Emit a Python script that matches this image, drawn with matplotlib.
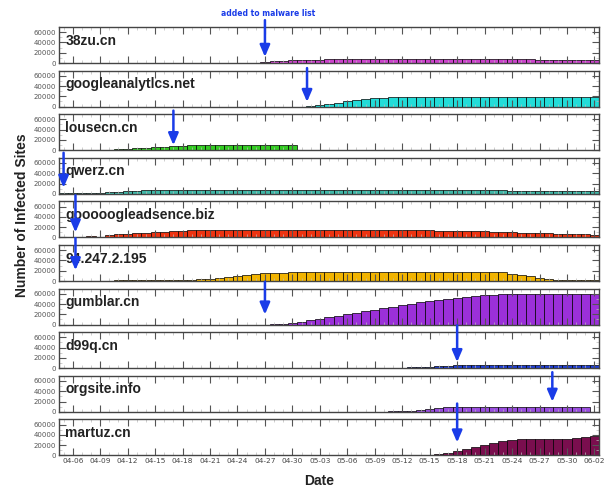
import matplotlib.pyplot as plt
import numpy as np

days = ['04-05', '04-06', '04-07', '04-08', '04-09', '04-10', '04-11', '04-12', '04-13', '04-14',
        '04-15', '04-16', '04-17', '04-18', '04-19', '04-20', '04-21', '04-22', '04-23', '04-24',
        '04-25', '04-26', '04-27', '04-28', '04-29', '04-30', '05-01', '05-02', '05-03', '05-04',
        '05-05', '05-06', '05-07', '05-08', '05-09', '05-10', '05-11', '05-12', '05-13', '05-14',
        '05-15', '05-16', '05-17', '05-18', '05-19', '05-20', '05-21', '05-22', '05-23', '05-24',
        '05-25', '05-26', '05-27', '05-28', '05-29', '05-30', '05-31', '06-01', '06-02']
tick_labels = days[1::3]

sites = ['38zu.cn', 'googleanalytlcs.net', 'lousecn.cn', 'qwerz.cn', 'gooooogleadsence.biz',
         '94.247.2.195', 'gumblar.cn', 'd99q.cn', 'orgsite.info', 'martuz.cn']

# infected sites per day, in thousands
s38zu = [0] * 20 + [0.5, 0.8, 1.5, 3, 4, 5, 5.5, 6, 6.5, 7, 7, 7, 7.5, 7.5, 7.5, 7.5, 7.5, 7.5, 7.5, 7.5,
                    7.5, 7.5, 7.5, 7.5, 7.5, 7.5, 7, 7, 7, 7, 7, 7, 6.5, 6, 6, 6, 5.5, 5.5, 5]
sgoogle = [0] * 27 + [1, 3, 5, 7, 10, 12, 14, 16, 17, 18, 18, 18, 18.5, 18.5, 18.5, 19, 19, 19, 19, 19,
                      19, 19, 19, 19, 19, 19, 19, 19, 19, 19, 19, 19]
slouse = [1, 1, 1, 1, 0.5, 0.5, 2, 3, 4, 5, 6, 7, 8, 9, 10, 10, 11, 11, 11, 11, 11, 11, 11, 11, 11, 11] + [0] * 33
sqwerz = [2, 2, 2, 1, 1, 3, 4, 5, 6, 7, 7, 7.5, 7.5, 8, 8, 8, 8, 8, 8, 8, 8, 8, 8, 8, 8, 8, 8, 8, 8, 8,
          8, 8, 8, 8, 8, 8, 8, 8, 8, 8, 8, 8, 8, 8, 8, 8, 8, 8, 7.5, 6, 5, 5, 5, 4.5, 4.5, 4.5, 4.5, 4.5, 4.5]
sgoooo = [1, 1, 1, 3, 0.5, 5, 6, 7, 8, 9, 10, 11, 12, 13, 13.5, 14, 14, 14, 14, 14, 14, 14, 14.5, 14.5, 14.5,
          14.5, 14.5, 14.5, 14.5, 14.5, 14.5, 14.5, 14.5, 14.5, 14.5, 14.5, 14, 14, 14, 14, 13.5, 13, 13, 12.5,
          12, 12, 11.5, 11, 10.5, 10, 9.5, 9, 8.5, 8, 7.5, 7, 6.5, 6, 5.5]
s94 = [0] * 6 + [1, 1, 1, 1, 1, 1, 1, 1, 2, 3, 4, 5, 7, 9, 11, 13, 15, 16, 16.5, 17, 17, 17, 17, 17, 17, 17,
                 17, 17, 17, 17, 17, 17, 17, 17, 17, 17, 17, 17, 17, 17, 17, 17, 17, 14, 12, 9, 6, 3, 2, 1, 1, 1, 1]
sgumblar = [0] * 23 + [1, 2, 4, 6, 8, 11, 14, 17, 20, 23, 26, 29, 32, 35, 38, 41, 44, 46, 48, 50, 52, 54,
                       56, 57, 58, 59, 60, 60, 60, 60, 60, 60, 60, 60, 60, 60]
sd99q = [0] * 35 + [0.5, 1, 1, 2, 2, 3, 4, 5, 6, 7, 7, 7, 7, 7, 7, 7, 7, 7, 7, 7, 7, 7, 7, 7]
sorgsite = [0] * 34 + [0.5, 0.5, 1, 1, 2, 4, 6, 8, 9, 10, 10, 10, 10, 10, 10, 10, 10, 10, 10, 10, 10, 10,
                       10, 10, 0]
smartuz = [0] * 40 + [1, 3, 5, 8, 12, 16, 20, 24, 28, 30, 31, 31, 31, 31, 31, 31, 33, 35, 37]
series = [s38zu, sgoogle, slouse, sqwerz, sgoooo, s94, sgumblar, sd99q, sorgsite, smartuz]

colors = ['#cc44cc', '#22dcd8', '#33cc22', '#40b8a8', '#ee3311',
          '#f2b400', '#9b30d9', '#1f3fd8', '#9a4de0', '#7a0e4e']

# day the domain was added to the malware list (index into days)
listed = [22, 26.6, 12, 0, 1.3, 1.3, 22, 43, 53.4, 43]
arrow_top = [1.19, 1.07, 1.1, 1.14, 1.17, 1.19, 1.19, 1.19, 1.1, 1.44]
arrow_tip = [0.17, 0.13, 0.14, 0.17, 0.14, 0.3, 0.28, 0.17, 0.28, 0.36]

W, H = 607, 488
fig = plt.figure(figsize=(W / 100, H / 100), dpi=100)
x = np.arange(len(days))
left, right = 59, 599
top0, pitch, ph = 27, 43.6, 36
axes = []
for i, (name, vals, col) in enumerate(zip(sites, series, colors)):
    top = top0 + i * pitch
    ax = fig.add_axes([left / W, 1 - (top + ph) / H, (right - left) / W, ph / H])
    ax.bar(x, np.array(vals) * 1000, width=1.0, color=col, edgecolor='black', linewidth=0.5)
    ax.set_xlim(-0.5, len(days) - 0.5)
    ax.set_ylim(0, 70000)
    ax.set_yticks([0, 20000, 40000, 60000])
    ax.set_yticklabels(['0', '20000', '40000', '60000'], fontsize=5, color='#555555')
    ax.set_xticks(x[1::3])
    ax.set_xticks(x, minor=True)
    ax.set_yticks([10000, 30000, 50000], minor=True)
    ax.tick_params(which='both', direction='in', top=True, right=True, color='#555555', pad=2)
    ax.tick_params(which='major', length=5, width=0.8)
    ax.tick_params(which='minor', length=2, width=0.5, color='#bbbbbb')
    if i == len(sites) - 1:
        ax.set_xticklabels(tick_labels, fontsize=5.3, color='#444444')
    else:
        ax.set_xticklabels([])
    for sp in ax.spines.values():
        sp.set_color('#444444')
        sp.set_linewidth(1.0)
    ax.text(0.012, 0.62, name, transform=ax.transAxes, fontsize=10, fontweight='bold',
            family='Liberation Sans', va='center', color='#222222')
    ax.annotate('', xy=(listed[i], arrow_tip[i]), xytext=(listed[i], arrow_top[i]),
                xycoords=ax.get_xaxis_transform(), annotation_clip=False,
                arrowprops=dict(arrowstyle='-|>,head_width=0.3,head_length=0.7',
                                color='#1a3ce8', lw=1.8, shrinkA=0, shrinkB=0))
    axes.append(ax)

fig.text(268 / W, 1 - 13 / H, 'added to malware list', fontsize=5.5, fontweight='bold',
         color='#1a3ce8', ha='center', va='center')
fig.text(22 / W, 1 - 215 / H, 'Number of Infected Sites', rotation=90, fontsize=10,
         fontweight='bold', family='Liberation Sans', ha='center', va='center', color='#222222')
fig.text(319 / W, 1 - 481 / H, 'Date', fontsize=10, fontweight='bold', family='Liberation Sans',
         ha='center', va='center', color='#222222')

fig.savefig('out.png', dpi=100)
